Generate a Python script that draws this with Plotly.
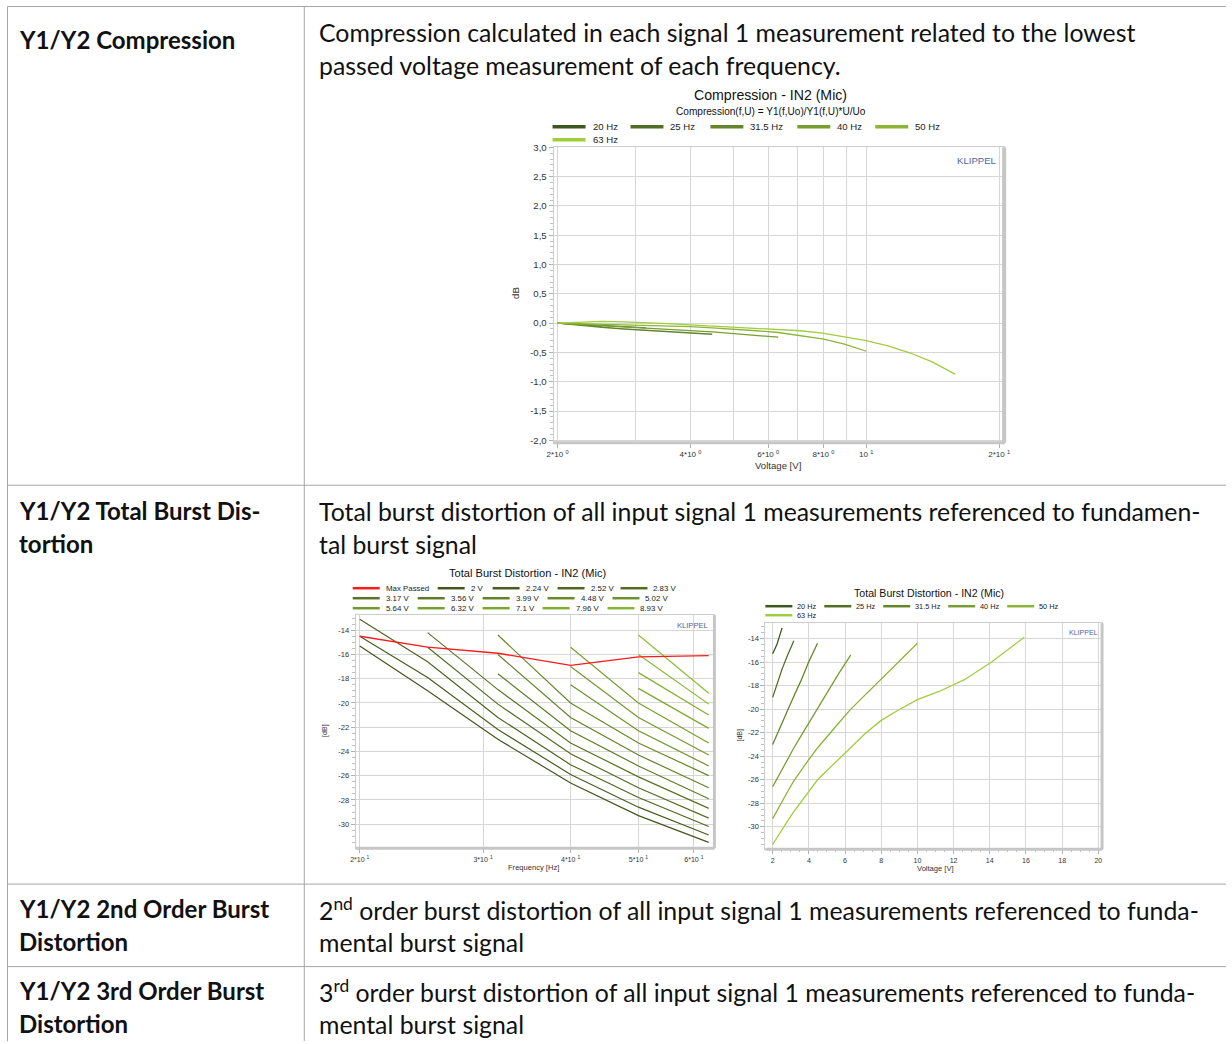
import numpy as np
import plotly.graph_objects as go

W, H = 1232, 1044
# The photographed area is slightly larger than the page, so reference pixel
# coordinates are mapped onto page coordinates.
AX, BX = 1232 / 1244, 5.94
AY, BY = 0.9917, 5.6
FS = 1 / AX
def px(x): return ((x - BX) / AX) / W
def py(y): return 1 - ((y - BY) / AY) / H

# ---------------- data ----------------
voltages = [2, 2.24, 2.52, 2.83, 3.17, 3.56, 3.99, 4.48, 5.02, 5.64, 6.32,
            7.1, 7.96, 8.93, 10, 11.2, 12.6, 14.1, 15.9]
freq_names = ["20 Hz", "25 Hz", "31.5 Hz", "40 Hz", "50 Hz", "63 Hz"]
freqs = [20, 25, 31.5, 40, 50, 63]

# Compression [dB] per frequency over the passed voltages
comp_20 = [0.0, -0.03, -0.05]
comp_25 = [0.0, -0.02, -0.04, -0.06, -0.08]
comp_31 = [0.0, -0.04, -0.07, -0.10, -0.12, -0.14, -0.16, -0.19]
comp_40 = [0.0, -0.02, -0.04, -0.06, -0.08, -0.10, -0.12, -0.15, -0.18, -0.21, -0.24]
comp_50 = [0.0, -0.01, -0.01, -0.02, -0.03, -0.04, -0.06, -0.08, -0.10, -0.13,
           -0.16, -0.21, -0.27, -0.36, -0.48]
comp_63 = [0.0, 0.02, 0.03, 0.02, 0.01, -0.01, -0.03, -0.05, -0.07, -0.08, -0.10,
           -0.13, -0.17, -0.23, -0.30, -0.39, -0.51, -0.66, -0.87]

# Total burst distortion [dB] per frequency over the passed voltages
dist_20 = [-15.3, -14.5, -13.1]
dist_25 = [-19.0, -17.9, -16.6, -15.4, -14.2]
dist_31 = [-23.0, -22.2, -21.2, -20.1, -18.9, -17.6, -16.0, -14.4]
dist_40 = [-26.6, -25.9, -25.1, -24.2, -23.3, -22.3, -21.2, -20.0, -18.5, -17.0, -15.4]
dist_50 = [-29.3, -28.6, -27.8, -27.0, -26.1, -25.2, -24.3, -23.3, -22.3, -21.2,
           -20.0, -18.8, -17.5, -16.0, -14.4]
dist_63 = [-31.5, -30.9, -30.2, -29.5, -28.7, -27.9, -27.0, -26.0, -25.2, -24.3,
           -23.3, -22.1, -21.0, -20.1, -19.2, -18.5, -17.5, -16.0, -13.9]
max_passed = [-14.5, -15.4, -15.9, -16.9, -16.2, -16.1]

comp_ticks = [3.0, 2.5, 2.0, 1.5, 1.0, 0.5, 0.0, -0.5, -1.0, -1.5, -2.0]
comp_tick_labels = ["3,0", "2,5", "2,0", "1,5", "1,0", "0,5", "0,0", "-0,5", "-1,0", "-1,5", "-2,0"]
comp_xticks = [2, 4, 6, 8, 10, 20]
comp_xtick_labels = ["2*10 <sup>0</sup>", "4*10 <sup>0</sup>", "6*10 <sup>0</sup>",
                     "8*10 <sup>0</sup>", "10 <sup>1</sup>", "2*10 <sup>1</sup>"]
freq_xticks = [20, 30, 40, 50, 60]
freq_xtick_labels = ["2*10 <sup>1</sup>", "3*10 <sup>1</sup>", "4*10 <sup>1</sup>",
                     "5*10 <sup>1</sup>", "6*10 <sup>1</sup>"]
db_ticks = [-14, -16, -18, -20, -22, -24, -26, -28, -30]
db_tick_labels = ["-14", "-16", "-18", "-20", "-22", "-24", "-26", "-28", "-30"]
volt_ticks = [2, 4, 6, 8, 10, 12, 14, 16, 18, 20]

comp = [comp_20, comp_25, comp_31, comp_40, comp_50, comp_63]
dist = [dist_20, dist_25, dist_31, dist_40, dist_50, dist_63]

# ---------------- styles ----------------
CF = "Liberation Sans, Arial, sans-serif"
DF = "Lato, sans-serif"
GRID = "#d6d6d6"
FRAME = "#cdcdcd"
TXT = "#333333"
KLIP = "#4a66a6"

def lerp(c0, c1, t):
    return "rgb(%d,%d,%d)" % tuple(int(round(a + (b - a) * t)) for a, b in zip(c0, c1))

freq_colors = [lerp((60, 86, 32), (160, 205, 60), i / 5) for i in range(6)]
nv = 15
volt_colors = [lerp((70, 84, 30), (140, 190, 52), i / (nv - 1)) for i in range(nv)]

fig = go.Figure()

# --- chart 1: compression ---
for name, c, col in zip(freq_names, comp, freq_colors):
    fig.add_trace(go.Scatter(x=voltages[:len(c)], y=c, mode="lines", name=name,
                             line=dict(color=col, width=1.3), xaxis="x", yaxis="y",
                             showlegend=False))

# --- chart 2: distortion vs frequency ---
for i, v in enumerate(voltages[:nv]):
    xs = [f for f, d in zip(freqs, dist) if len(d) > i]
    ys = [d[i] for d in dist if len(d) > i]
    if len(xs) < 2:
        continue
    fig.add_trace(go.Scatter(x=xs, y=ys, mode="lines", name=f"{v:g} V",
                             line=dict(color=volt_colors[i], width=1.2),
                             xaxis="x2", yaxis="y2", showlegend=False))
fig.add_trace(go.Scatter(x=freqs, y=max_passed, mode="lines", name="Max Passed",
                         line=dict(color="#ff1a1a", width=1.4),
                         xaxis="x2", yaxis="y2", showlegend=False))

# --- chart 3: distortion vs voltage ---
for name, d, col in zip(freq_names, dist, freq_colors):
    fig.add_trace(go.Scatter(x=voltages[:len(d)], y=d, mode="lines", name=name,
                             line=dict(color=col, width=1.3),
                             xaxis="x3", yaxis="y3", showlegend=False))

# ---------------- axes ----------------
def axis_common(fs):
    return dict(showline=True, linecolor=FRAME, linewidth=1, mirror=True,
                gridcolor=GRID, gridwidth=1.3, zeroline=False,
                tickfont=dict(family=CF, size=fs * FS, color=TXT),
                ticks="outside", ticklen=4, tickcolor="#b0b0b0", tickwidth=1)

lg = np.log10
x1 = axis_common(8)
x1.update(type="log", domain=[px(553), px(1004)],
          range=[lg(2) - 4 / 442, lg(2) - 4 / 442 + 451 / 442],
          tickmode="array", tickvals=comp_xticks, ticktext=comp_xtick_labels,
          minor=dict(tickvals=[3, 5, 7, 9], showgrid=True, gridcolor=GRID, gridwidth=1.3, ticks=""),
          anchor="y")
y1 = axis_common(9.5)
y1.update(domain=[py(442.4), py(147)], range=[-2.04, 3.0],
          tickmode="array", tickvals=comp_ticks, ticktext=comp_tick_labels,
          minor=dict(dtick=0.1, ticks="outside", ticklen=3, tickcolor="#c0c0c0"),
          anchor="x")

x2 = axis_common(7)
x2.update(type="log", domain=[px(355), px(714)],
          range=[lg(20) - 4 / 701, lg(20) - 4 / 701 + 359 / 701],
          tickmode="array", tickvals=freq_xticks, ticktext=freq_xtick_labels, anchor="y2")
y2 = axis_common(7.5)
y2.update(domain=[py(848), py(615)], range=[-31.979, -12.763],
          tickmode="array", tickvals=db_ticks, ticktext=db_tick_labels,
          minor=dict(dtick=0.5, ticks="outside", ticklen=3, tickcolor="#c0c0c0"),
          anchor="x2")

x3 = axis_common(7)
x3.update(domain=[px(765), px(1102)], range=[1.597, 1.597 + 337 / 18.11],
          tickmode="array", tickvals=volt_ticks,
          minor=dict(dtick=0.5, ticks="outside", ticklen=2, tickcolor="#c0c0c0"),
          anchor="y3")
y3 = axis_common(7.5)
y3.update(domain=[py(849), py(623)], range=[-31.894, -12.70],
          tickmode="array", tickvals=db_ticks, ticktext=db_tick_labels,
          minor=dict(dtick=0.5, ticks="outside", ticklen=3, tickcolor="#c0c0c0"),
          anchor="x3")

fig.update_layout(xaxis=x1, yaxis=y1, xaxis2=x2, yaxis2=y2, xaxis3=x3, yaxis3=y3)

shapes = []
annots = []

# frame shadows (right and bottom bars)
for xa, ya, wr, wb in [("x", "y", 4, 3), ("x2", "y2", 3, 3), ("x3", "y3", 3, 3)]:
    shapes.append(dict(type="line", xref=f"{xa} domain", yref=f"{ya} domain",
                       x0=1, x1=1, y0=0, y1=1, line=dict(color="#c6c6c6", width=wr)))
    shapes.append(dict(type="line", xref=f"{xa} domain", yref=f"{ya} domain",
                       x0=0, x1=1, y0=0, y1=0, line=dict(color="#c6c6c6", width=wb)))

def text(x, y, s, size, family=CF, color="#222", anchor="left", angle=0):
    annots.append(dict(x=px(x), y=py(y), xref="paper", yref="paper", text=s,
                       showarrow=False, xanchor=anchor, yanchor="middle",
                       textangle=angle, font=dict(family=family, size=size * FS, color=color)))

def legend(names, colors, starts, line_len, gap, fs, lw):
    for nm, col, (x0, y0) in zip(names, colors, starts):
        shapes.append(dict(type="line", xref="paper", yref="paper",
                           x0=px(x0), x1=px(x0 + line_len), y0=py(y0), y1=py(y0),
                           line=dict(color=col, width=lw)))
        text(x0 + line_len + gap, y0, nm, fs)

# chart 1 texts
text(770, 95, "Compression - IN2 (Mic)", 14, anchor="center", color="#111")
text(771, 111, "Compression(f,U) = Y1(f,Uo)/Y1(f,U)*U/Uo", 10, anchor="center", color="#111")
legend(freq_names, freq_colors,
       [(552, 126.5), (630, 126.5), (710, 126.5), (797, 126.5), (875, 126.5), (552, 139.5)],
       33, 5, 9.5, 3.5)
text(977, 160, "KLIPPEL", 9.5, color=KLIP, anchor="center")
text(515, 293, "dB", 9.5, anchor="center", angle=-90, color=TXT)
text(778, 465, "Voltage [V]", 9.5, anchor="center", color=TXT)

# chart 2 texts
text(527, 573, "Total Burst Distortion - IN2 (Mic)", 11, anchor="center", color="#111")
leg2_names = ["Max Passed"] + [f"{v:g} V" for v in voltages[:14]]
leg2_colors = ["#ff1a1a"] + volt_colors[:14]
leg2_pos = [(352, 588), (437, 588), (492, 588), (557, 588), (620, 588),
            (352, 598), (417, 598), (482, 598), (547, 598), (612, 598),
            (352, 608), (417, 608), (482, 608), (542, 608), (607, 608)]
legend(leg2_names, leg2_colors, leg2_pos, 27, 4, 7.8, 2.5)
text(692, 625, "KLIPPEL", 7.5, color=KLIP, anchor="center")
text(324, 730, "[dB]", 7, anchor="center", angle=-90, color=TXT)
text(533, 867, "Frequency [Hz]", 7.5, anchor="center", color=TXT)

# chart 3 texts
text(929, 593, "Total Burst Distortion - IN2 (Mic)", 10.5, anchor="center", color="#111")
legend(freq_names, freq_colors,
       [(765, 606), (824, 606), (883, 606), (948, 606), (1007, 606), (765, 615)],
       27, 3, 7.3, 2.5)
text(1083, 632, "KLIPPEL", 7, color=KLIP, anchor="center")
text(740, 735, "[dB]", 7, anchor="center", angle=-90, color=TXT)
text(935, 868, "Voltage [V]", 7.5, anchor="center", color=TXT)

# ---------------- document table ----------------
TC = "#a6a6a6"
top_y = max(5, BY + 0.5 * AY)
left_x = max(4, BX + 0.5 * AX)
for y in [top_y, 485, 884, 966.5]:
    shapes.append(dict(type="line", xref="paper", yref="paper", x0=px(left_x), x1=1,
                       y0=py(y), y1=py(y), line=dict(color=TC, width=1)))
for x in [left_x, 303.5]:
    shapes.append(dict(type="line", xref="paper", yref="paper", x0=px(x), x1=px(x),
                       y0=py(top_y), y1=0, line=dict(color=TC, width=1)))

left_col = [("Y1/Y2 Compression", 39.5), ("Y1/Y2 Total Burst Dis-", 510.5), ("tortion", 543.5),
            ("Y1/Y2 2nd Order Burst", 908.5), ("Distortion", 941.5),
            ("Y1/Y2 3rd Order Burst", 990.5), ("Distortion", 1023.5)]
right_col = [("Compression calculated in each signal 1 measurement related to the lowest", 31.5),
             ("passed voltage measurement of each frequency.", 64.5),
             ("Total burst distortion of all input signal 1 measurements referenced to fundamen-", 510.5),
             ("tal burst signal", 543.5),
             ("2<sup>nd</sup> order burst distortion of all input signal 1 measurements referenced to funda-", 908.5),
             ("mental burst signal", 941.5),
             ("3<sup>rd</sup> order burst distortion of all input signal 1 measurements referenced to funda-", 990.5),
             ("mental burst signal", 1023.5)]
for s, y in left_col:
    text(15.5, y, "<b>" + s + "</b>", 23.8, family=DF, color="#111")
for s, y in right_col:
    text(316.5, y, s, 24.6, family=DF, color="#111")

fig.update_layout(shapes=shapes, annotations=annots,
                  width=W, height=H, autosize=False,
                  margin=dict(l=0, r=0, t=0, b=0),
                  paper_bgcolor="white", plot_bgcolor="white",
                  showlegend=False)

fig.write_html("out.html", config={"displayModeBar": False},
               post_script="document.body.style.margin='0';document.body.style.overflow='hidden';")
